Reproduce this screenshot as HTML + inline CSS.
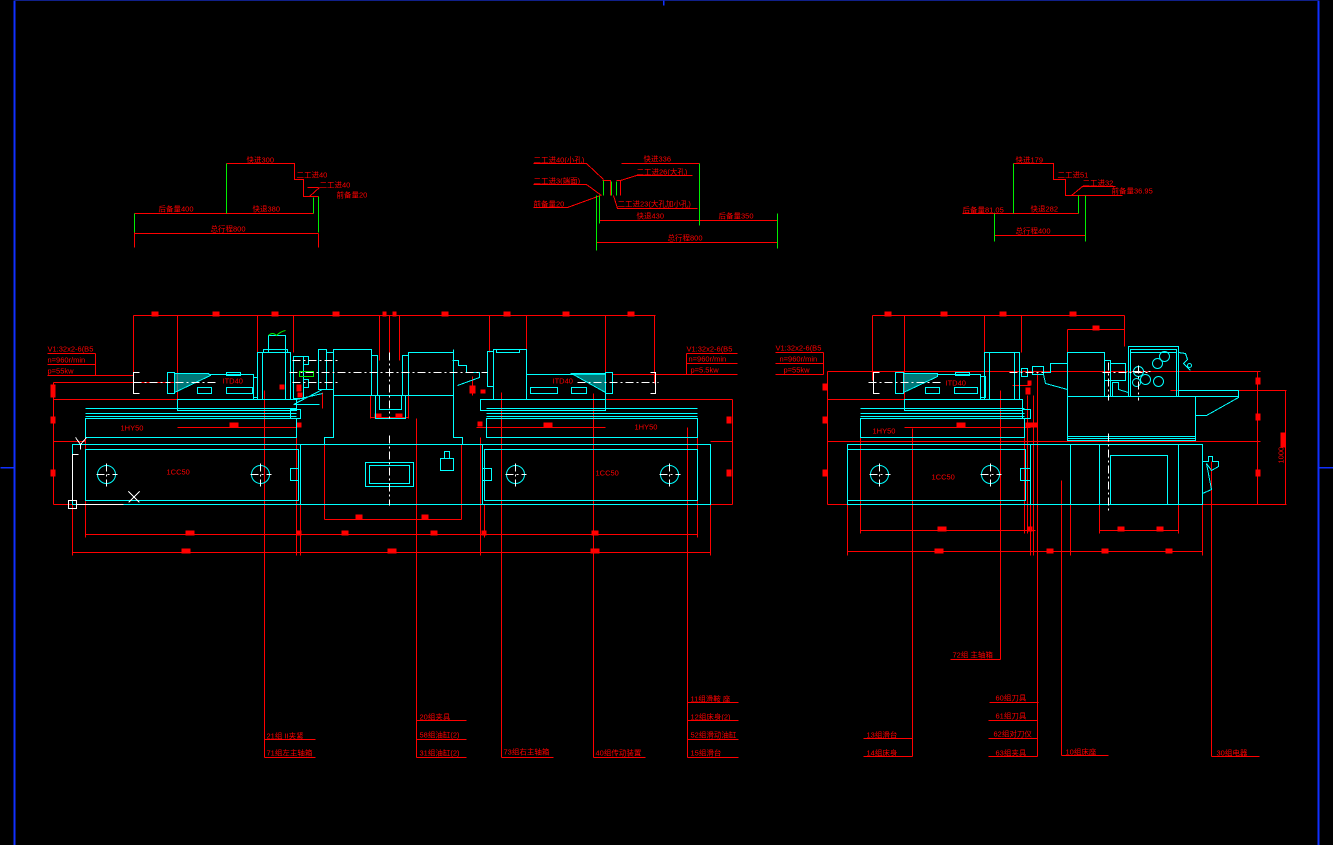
<!DOCTYPE html>
<html><head><meta charset="utf-8"><style>
html,body{margin:0;padding:0;background:#000;}
svg{display:block}
text{font-family:"Liberation Sans","Noto Sans CJK SC",sans-serif;fill:#ff0000;font-size:7.5px}
.c{stroke:#00ffff;fill:none;stroke-width:1}
.r{stroke:#ff0000;fill:none;stroke-width:1}
.g{stroke:#00ee00;fill:none;stroke-width:1}
.w{stroke:#fff;fill:none;stroke-width:1;stroke-dasharray:8 3 2 3}
.m{fill:#ff0000}
line,polyline,rect,polygon{shape-rendering:crispEdges}
</style></head><body>
<svg width="1333" height="845" viewBox="0 0 1333 845">
<rect width="1333" height="845" fill="#000"/>
<g transform="translate(0.5,0.5)">
<line x1="14" y1="0" x2="14" y2="845" stroke="#1030ff" stroke-width="2"/>
<line x1="1318" y1="0" x2="1318" y2="845" stroke="#1030ff" stroke-width="2"/>
<line x1="14" y1="0" x2="1318" y2="0" stroke="#10208a" stroke-width="1"/>
<line x1="663" y1="0" x2="663" y2="5" stroke="#1030ff" stroke-width="1.5"/>
<line x1="0" y1="467" x2="14" y2="467" stroke="#1030ff" stroke-width="1.5"/>
<line x1="1318" y1="467" x2="1333" y2="467" stroke="#1030ff" stroke-width="1.5"/>

<!-- ===== TOP DIAGRAM LEFT ===== -->
<g class="r">
<polyline points="226,163 294,163 294,179 303,179 303,196 318,196"/>
<line x1="307" y1="187" x2="318" y2="187"/><line x1="309" y1="196" x2="319" y2="187"/>
<line x1="134" y1="213" x2="313" y2="213"/>
<line x1="134" y1="233" x2="318" y2="233"/>
<line x1="134" y1="213" x2="134" y2="247"/><line x1="318" y1="233" x2="318" y2="247"/>
</g>
<g class="g"><line x1="226" y1="163" x2="226" y2="213"/><line x1="134" y1="213" x2="134" y2="232"/><line x1="318" y1="196" x2="318" y2="232"/><line x1="313" y1="197" x2="313" y2="213"/></g>
<text x="246" y="162">快进300</text><text x="296" y="177">二工进40</text><text x="319" y="187">二工进40</text>
<text x="336" y="197">前备量20</text><text x="158" y="211">后备量400</text><text x="252" y="211">快退380</text><text x="210" y="231">总行程800</text>

<!-- ===== TOP DIAGRAM MIDDLE ===== -->
<g class="r">
<line x1="621" y1="163" x2="699" y2="163"/>
<polyline points="533,163 586,163 603,179"/><polyline points="533,184 586,184 601,195"/><polyline points="533,207 567,207 600,195"/>
<polyline points="602,180 610,180 610,195"/><polyline points="616,180 620,180 620,195"/>
<polyline points="620,180 636,175 692,175"/>
<polyline points="613,195 617,208 697,208"/>
<line x1="599" y1="220" x2="777" y2="220"/>
<line x1="596" y1="242" x2="777" y2="242"/>
</g>
<g class="g"><line x1="699" y1="163" x2="699" y2="225"/><line x1="777" y1="213" x2="777" y2="248"/><line x1="596" y1="195" x2="596" y2="250"/><line x1="599" y1="195" x2="599" y2="223"/><line x1="611" y1="181" x2="611" y2="195"/><line x1="616" y1="181" x2="616" y2="195"/><line x1="603" y1="180" x2="603" y2="195"/></g>
<text x="533" y="162">二工进40(小孔)</text><text x="533" y="183">二工进3(端面)</text><text x="533" y="206">前备量20</text>
<text x="643" y="161">快进336</text><text x="636" y="174">二工进26(大孔)</text><text x="617" y="206">二工进23(大孔加小孔)</text>
<text x="636" y="218">快退430</text><text x="718" y="218">后备量350</text><text x="667" y="240">总行程800</text>

<!-- ===== TOP DIAGRAM RIGHT ===== -->
<g class="r">
<polyline points="1013,163 1053,163 1053,179 1065,179 1065,195 1122,195"/>
<line x1="1081" y1="186" x2="1115" y2="186"/><line x1="1071" y1="195" x2="1082" y2="186"/>
<line x1="962" y1="213" x2="1078" y2="213"/>
<line x1="994" y1="235" x2="1085" y2="235"/>
<line x1="994" y1="235" x2="994" y2="241"/>
</g>
<g class="g"><line x1="1013" y1="163" x2="1013" y2="213"/><line x1="994" y1="213" x2="994" y2="241"/><line x1="1085" y1="195" x2="1085" y2="241"/><line x1="1078" y1="195" x2="1078" y2="213"/></g>
<text x="1015" y="162">快进179</text><text x="1057" y="177">二工进51</text><text x="1082" y="185">二工进32</text><text x="1111" y="193">前备量36.95</text>
<text x="962" y="212">后备量81.05</text><text x="1030" y="211">快退282</text><text x="1015" y="233">总行程400</text>

<!-- ===== LEFT MACHINE: DIMENSIONS ===== -->
<g class="r">
<line x1="133" y1="315" x2="655" y2="315"/>
<line x1="133" y1="315" x2="133" y2="383"/><line x1="177" y1="315" x2="177" y2="400"/><line x1="257" y1="315" x2="257" y2="352"/>
<line x1="293" y1="315" x2="293" y2="352"/><line x1="379" y1="315" x2="379" y2="360"/><line x1="389" y1="315" x2="389" y2="360"/><line x1="399" y1="315" x2="399" y2="360"/>
<line x1="489" y1="315" x2="489" y2="352"/><line x1="526" y1="315" x2="526" y2="374"/><line x1="605" y1="315" x2="605" y2="400"/><line x1="654" y1="315" x2="654" y2="383"/>
<line x1="47" y1="353" x2="95" y2="353"/><line x1="47" y1="364" x2="95" y2="364"/><line x1="47" y1="375" x2="133" y2="375"/><line x1="95" y1="353" x2="95" y2="375"/>
<line x1="686" y1="353" x2="737" y2="353"/><line x1="686" y1="363" x2="737" y2="363"/><line x1="612" y1="374" x2="737" y2="374"/><line x1="686" y1="353" x2="686" y2="374"/>
<line x1="53" y1="382" x2="177" y2="382"/><line x1="53" y1="382" x2="53" y2="504"/>
<line x1="53" y1="399" x2="177" y2="399"/><line x1="53" y1="441" x2="85" y2="441"/><line x1="53" y1="504" x2="72" y2="504"/>
<line x1="177" y1="427" x2="296" y2="427"/><line x1="476" y1="427" x2="605" y2="427"/>
<line x1="480" y1="399" x2="732" y2="399"/><line x1="732" y1="399" x2="732" y2="504"/><line x1="710" y1="441" x2="732" y2="441"/><line x1="710" y1="504" x2="732" y2="504"/>
<line x1="85" y1="534" x2="697" y2="534"/><line x1="72" y1="552" x2="710" y2="552"/>
<line x1="72" y1="504" x2="72" y2="555"/><line x1="85" y1="437" x2="85" y2="537"/><line x1="296" y1="437" x2="296" y2="555"/><line x1="300" y1="504" x2="300" y2="555"/>
<line x1="480" y1="437" x2="480" y2="555"/><line x1="484" y1="504" x2="484" y2="537"/><line x1="697" y1="418" x2="697" y2="537"/><line x1="710" y1="504" x2="710" y2="555"/>
<line x1="324" y1="444" x2="324" y2="519"/><line x1="461" y1="444" x2="461" y2="519"/><line x1="324" y1="519" x2="461" y2="519"/>
<line x1="370" y1="395" x2="370" y2="418"/><line x1="408" y1="395" x2="408" y2="418"/><line x1="370" y1="417" x2="408" y2="417"/>
<line x1="264" y1="390" x2="264" y2="757"/><line x1="264" y1="739" x2="315" y2="739"/><line x1="264" y1="757" x2="315" y2="757"/>
<line x1="416" y1="418" x2="416" y2="757"/><line x1="416" y1="720" x2="466" y2="720"/><line x1="416" y1="739" x2="466" y2="739"/><line x1="416" y1="757" x2="466" y2="757"/>
<line x1="501" y1="392" x2="501" y2="757"/><line x1="501" y1="757" x2="553" y2="757"/>
<line x1="593" y1="393" x2="593" y2="757"/><line x1="593" y1="757" x2="645" y2="757"/>
<line x1="687" y1="427" x2="687" y2="757"/><line x1="687" y1="702" x2="738" y2="702"/><line x1="687" y1="720" x2="738" y2="720"/><line x1="687" y1="739" x2="738" y2="739"/><line x1="687" y1="757" x2="738" y2="757"/>
<line x1="472" y1="376" x2="472" y2="395"/><line x1="322" y1="392" x2="322" y2="408"/>
</g>
<g class="m">
<rect x="151" y="311" width="7" height="5"/><rect x="212" y="311" width="7" height="5"/><rect x="271" y="311" width="7" height="5"/><rect x="332" y="311" width="7" height="5"/>
<rect x="382" y="311" width="4" height="5"/><rect x="392" y="311" width="4" height="5"/><rect x="441" y="311" width="7" height="5"/><rect x="503" y="311" width="7" height="5"/><rect x="562" y="311" width="7" height="5"/><rect x="627" y="311" width="7" height="5"/>
<rect x="50" y="384" width="5" height="13"/><rect x="50" y="416" width="5" height="7"/><rect x="50" y="469" width="5" height="7"/>
<rect x="726" y="416" width="5" height="7"/><rect x="726" y="469" width="5" height="7"/>
<rect x="229" y="422" width="9" height="5"/><rect x="543" y="422" width="9" height="5"/><rect x="296" y="422" width="5" height="5"/>
<rect x="279" y="384" width="5" height="5"/><rect x="296" y="384" width="5" height="7"/><rect x="297" y="392" width="5" height="5"/>
<rect x="185" y="530" width="9" height="5"/><rect x="341" y="530" width="7" height="5"/><rect x="430" y="530" width="7" height="5"/><rect x="591" y="530" width="7" height="5"/><rect x="296" y="530" width="5" height="5"/><rect x="481" y="530" width="5" height="5"/>
<rect x="181" y="548" width="9" height="5"/><rect x="387" y="548" width="9" height="5"/><rect x="590" y="548" width="9" height="5"/>
<rect x="355" y="514" width="7" height="5"/><rect x="421" y="514" width="7" height="5"/>
<rect x="374" y="413" width="7" height="5"/><rect x="395" y="413" width="7" height="5"/>
<rect x="469" y="385" width="6" height="8"/><rect x="480" y="389" width="5" height="4"/><rect x="477" y="421" width="5" height="5"/>
</g>
<text x="47" y="351" font-size="6.5">V1:32x2-6(B5</text><text x="47" y="362" font-size="6.5">n=960r/min</text><text x="47" y="373" font-size="6.5">p=55kw</text>
<text x="686" y="351" font-size="6.5">V1:32x2-6(B5</text><text x="688" y="361" font-size="6.5">n=960r/min</text><text x="690" y="372" font-size="6.5">p=5.5kw</text>
<text x="222" y="383" font-size="7">ITD40</text><text x="552" y="383" font-size="7">ITD40</text>
<text x="120" y="430" font-size="8">1HY50</text><text x="634" y="429" font-size="8">1HY50</text>
<text x="166" y="474" font-size="8">1CC50</text><text x="595" y="475" font-size="8">1CC50</text>

<!-- ===== LEFT MACHINE: CYAN ===== -->
<g class="c">
<rect x="167" y="372" width="7" height="21"/>
<polygon points="174,373 208,373 210,375 174,392" fill="#00c8c8" fill-opacity="0.6"/>
<polyline points="208,374 253,374 253,399 177,399"/>
<rect x="226" y="372" width="14" height="3"/>
<rect x="197" y="387" width="14" height="6"/><rect x="226" y="387" width="26" height="6"/>
<rect x="253" y="377" width="4" height="20"/>
<rect x="257" y="352" width="33" height="47"/><rect x="262" y="352" width="23" height="47"/>
<rect x="268" y="335" width="17" height="17"/><rect x="263" y="349" width="24" height="3"/>
<rect x="177" y="399" width="119" height="11"/>
<line x1="85" y1="408" x2="296" y2="408"/><line x1="85" y1="413" x2="296" y2="413"/><line x1="85" y1="416" x2="296" y2="416"/>
<rect x="85" y="418" width="211" height="19"/>
<line x1="85" y1="437" x2="296" y2="437"/>
<rect x="290" y="409" width="10" height="9"/>
<rect x="72" y="444" width="228" height="60"/><rect x="85" y="449" width="213" height="51"/>
<rect x="290" y="468" width="8" height="12"/>
<circle cx="106" cy="474" r="9"/><circle cx="260" cy="474" r="9"/>
<rect x="293" y="356" width="10" height="42"/><rect x="303" y="356" width="5" height="8"/><rect x="303" y="379" width="5" height="8"/>
<rect x="318" y="349" width="8" height="40"/><rect x="326" y="352" width="7" height="37"/>
<polyline points="322,389 293,404 319,404"/><line x1="296" y1="399" x2="322" y2="393"/>
<rect x="299" y="371" width="14" height="5" stroke="#00ee00"/>
<polyline points="333,349 333,437 324,437 324,444 462,444 462,437 453,437 453,349"/>
<rect x="333" y="349" width="38" height="46"/>
<line x1="333" y1="395" x2="453" y2="395"/>
<rect x="408" y="352" width="45" height="43"/>
<rect x="371" y="355" width="6" height="40"/><rect x="402" y="355" width="6" height="40"/>
<rect x="375" y="395" width="30" height="23"/><rect x="379" y="395" width="22" height="14"/>
<rect x="365" y="462" width="48" height="24"/><rect x="369" y="465" width="40" height="18"/>
<polyline points="452,360 458,360 458,365 466,365 466,372 479,372 479,377 457,385"/>
<rect x="300" y="444" width="182" height="60"/>
<rect x="440" y="458" width="13" height="12"/><rect x="444" y="451" width="5" height="7"/>
<rect x="487" y="351" width="6" height="35"/><rect x="493" y="349" width="33" height="50"/><rect x="496" y="349" width="23" height="3"/>
<rect x="526" y="374" width="79" height="25"/>
<polygon points="571,373 605,373 605,392" fill="#00c8c8" fill-opacity="0.6"/>
<rect x="605" y="372" width="7" height="21"/>
<rect x="530" y="387" width="27" height="6"/><rect x="571" y="387" width="15" height="6"/>
<rect x="480" y="399" width="125" height="11"/>
<line x1="486" y1="408" x2="697" y2="408"/><line x1="486" y1="413" x2="697" y2="413"/><line x1="486" y1="416" x2="697" y2="416"/>
<rect x="486" y="418" width="211" height="19"/><line x1="486" y1="437" x2="697" y2="437"/>
<rect x="482" y="444" width="228" height="60"/><rect x="484" y="449" width="213" height="51"/>
<rect x="482" y="468" width="9" height="12"/>
<circle cx="515" cy="474" r="9"/><circle cx="669" cy="474" r="9"/>
</g>
<g class="w">
<line x1="133" y1="382" x2="170" y2="382"/><line x1="175" y1="382" x2="215" y2="382"/>
<line x1="289" y1="372" x2="487" y2="372"/><line x1="292" y1="360" x2="337" y2="360"/><line x1="292" y1="382" x2="338" y2="382"/>
<line x1="577" y1="382" x2="658" y2="382"/>
<line x1="389" y1="352" x2="389" y2="418"/><line x1="389" y1="435" x2="389" y2="505"/>
<line x1="96" y1="474" x2="117" y2="474"/><line x1="106" y1="463" x2="106" y2="486"/>
<line x1="250" y1="474" x2="271" y2="474"/><line x1="260" y1="463" x2="260" y2="486"/>
<line x1="505" y1="474" x2="526" y2="474"/><line x1="515" y1="463" x2="515" y2="486"/>
<line x1="659" y1="474" x2="680" y2="474"/><line x1="669" y1="463" x2="669" y2="486"/>
</g>
<g stroke="#fff" fill="none" stroke-width="1">
<polyline points="139,372 133,372 133,393 139,393"/><polyline points="650,372 655,372 655,393 650,393"/>
<rect x="68" y="500" width="8" height="8"/><polyline points="72,500 72,454 78,454"/><line x1="76" y1="504" x2="123" y2="504"/>
<line x1="128" y1="491" x2="139" y2="502"/><line x1="139" y1="491" x2="128" y2="502"/>
<polyline points="75,437 80,444 86,437"/><line x1="80" y1="444" x2="80" y2="449"/>
</g>
<path d="M268,335 Q272,331 276,335 Q280,331 285,330" class="g"/>

<text x="266" y="738">21组 II夹紧</text><text x="266" y="755">71组左主轴箱</text>
<text x="419" y="719">20组夹具</text><text x="419" y="737">58组油缸(2)</text><text x="419" y="755">31组油缸(2)</text>
<text x="503" y="754">73组右主轴箱</text><text x="595" y="755">40组传动装置</text>
<text x="690" y="701">11组滑鞍 座</text><text x="690" y="719">12组床身(2)</text><text x="690" y="737">52组滑动油缸</text><text x="690" y="755">15组滑台</text>

<!-- ===== RIGHT MACHINE ===== -->
<g class="r">
<line x1="872" y1="315" x2="1124" y2="315"/>
<line x1="872" y1="315" x2="872" y2="380"/><line x1="904" y1="315" x2="904" y2="400"/><line x1="984" y1="315" x2="984" y2="352"/><line x1="1021" y1="315" x2="1021" y2="352"/><line x1="1124" y1="315" x2="1124" y2="340"/>
<line x1="1067" y1="329" x2="1124" y2="329"/><line x1="1067" y1="329" x2="1067" y2="352"/><line x1="1124" y1="329" x2="1124" y2="346"/>
<line x1="775" y1="352" x2="823" y2="352"/><line x1="775" y1="363" x2="823" y2="363"/><line x1="775" y1="374" x2="823" y2="374"/><line x1="823" y1="352" x2="823" y2="374"/>
<line x1="827" y1="371" x2="1260" y2="371"/><line x1="827" y1="371" x2="827" y2="504"/><line x1="827" y1="399" x2="904" y2="399"/><line x1="827" y1="441" x2="1260" y2="441"/>
<line x1="827" y1="504" x2="848" y2="504"/><line x1="1200" y1="504" x2="1286" y2="504"/>
<line x1="1257" y1="371" x2="1257" y2="504"/><line x1="1170" y1="390" x2="1286" y2="390"/><line x1="1285" y1="390" x2="1285" y2="504"/>
<line x1="904" y1="427" x2="1030" y2="427"/>
<line x1="860" y1="530" x2="1035" y2="530"/><line x1="1099" y1="530" x2="1178" y2="530"/>
<line x1="847" y1="551" x2="1202" y2="551"/>
<line x1="847" y1="504" x2="847" y2="555"/><line x1="860" y1="437" x2="860" y2="533"/><line x1="1024" y1="437" x2="1024" y2="533"/><line x1="1030" y1="504" x2="1030" y2="555"/><line x1="1070" y1="504" x2="1070" y2="555"/><line x1="1099" y1="504" x2="1099" y2="533"/><line x1="1178" y1="504" x2="1178" y2="533"/><line x1="1202" y1="504" x2="1202" y2="555"/>
<line x1="1027" y1="395" x2="1027" y2="533"/><line x1="1033" y1="395" x2="1033" y2="555"/>
<line x1="912" y1="428" x2="912" y2="756"/><line x1="863" y1="738" x2="912" y2="738"/><line x1="863" y1="756" x2="912" y2="756"/>
<line x1="1000" y1="390" x2="1000" y2="659"/><line x1="950" y1="659" x2="1000" y2="659"/>
<line x1="1037" y1="372" x2="1037" y2="756"/><line x1="989" y1="702" x2="1038" y2="702"/><line x1="988" y1="720" x2="1037" y2="720"/><line x1="988" y1="738" x2="1037" y2="738"/><line x1="988" y1="756" x2="1037" y2="756"/>
<line x1="1061" y1="480" x2="1061" y2="755"/><line x1="1061" y1="755" x2="1108" y2="755"/>
<line x1="1211" y1="461" x2="1211" y2="756"/><line x1="1211" y1="756" x2="1259" y2="756"/>
<line x1="1012" y1="385" x2="1030" y2="385"/>
</g>
<g class="m">
<rect x="884" y="311" width="7" height="5"/><rect x="940" y="311" width="7" height="5"/><rect x="999" y="311" width="7" height="5"/><rect x="1069" y="311" width="7" height="5"/>
<rect x="1092" y="325" width="7" height="5"/>
<rect x="822" y="383" width="5" height="7"/><rect x="822" y="416" width="5" height="7"/><rect x="822" y="469" width="5" height="7"/>
<rect x="1255" y="377" width="5" height="7"/><rect x="1255" y="413" width="5" height="7"/><rect x="1255" y="469" width="5" height="7"/>
<rect x="1280" y="432" width="5" height="15"/>
<rect x="956" y="422" width="9" height="5"/><rect x="1025" y="422" width="12" height="5"/><rect x="1027" y="380" width="4" height="5"/><rect x="1025" y="387" width="5" height="7"/>
<rect x="937" y="526" width="9" height="5"/><rect x="1027" y="526" width="5" height="5"/><rect x="1117" y="526" width="7" height="5"/><rect x="1156" y="526" width="7" height="5"/>
<rect x="934" y="548" width="9" height="5"/><rect x="1046" y="548" width="7" height="5"/><rect x="1101" y="548" width="7" height="5"/><rect x="1165" y="548" width="7" height="5"/>
</g>
<text x="775" y="350" font-size="6.5">V1:32x2-6(B5</text><text x="779" y="361" font-size="6.5">n=960r/min</text><text x="783" y="372" font-size="6.5">p=55kw</text>
<text x="945" y="385" font-size="8">ITD40</text><text x="872" y="433" font-size="8">1HY50</text><text x="931" y="479" font-size="8">1CC50</text>
<text x="1283" y="463" font-size="6" transform="rotate(-90 1283 463)">1000</text>
<g class="c">
<rect x="895" y="372" width="8" height="21"/>
<polygon points="903,373 937,373 937,376 903,392" fill="#00c8c8" fill-opacity="0.6"/>
<polyline points="937,374 980,374 980,399 904,399"/>
<rect x="955" y="372" width="14" height="3"/>
<rect x="925" y="387" width="14" height="6"/><rect x="954" y="387" width="23" height="6"/>
<rect x="980" y="376" width="5" height="21"/>
<rect x="984" y="352" width="35" height="47"/><rect x="989" y="352" width="25" height="47"/>
<rect x="904" y="399" width="118" height="11"/>
<line x1="860" y1="408" x2="1024" y2="408"/><line x1="860" y1="413" x2="1024" y2="413"/><line x1="860" y1="416" x2="1024" y2="416"/>
<rect x="860" y="418" width="164" height="19"/><line x1="860" y1="437" x2="1024" y2="437"/>
<rect x="1022" y="409" width="8" height="9"/>
<rect x="847" y="444" width="183" height="60"/><rect x="847" y="449" width="178" height="51"/>
<rect x="1020" y="468" width="10" height="12"/>
<circle cx="879" cy="474" r="9"/><circle cx="990" cy="474" r="9"/>
<rect x="1021" y="368" width="6" height="8"/><rect x="1032" y="366" width="11" height="8"/>
<polyline points="1043,366 1043,372 1050,372 1050,363 1067,363"/>
<polyline points="1043,374 1045,383 1067,389"/>
<rect x="1067" y="352" width="37" height="44"/>
<rect x="1104" y="360" width="6" height="20"/><rect x="1110" y="363" width="15" height="17"/>
<polyline points="1110,380 1110,396 1112,396 1112,382 1118,382 1118,389 1128,392"/>
<rect x="1067" y="396" width="128" height="44"/>
<line x1="1067" y1="436" x2="1195" y2="436"/><line x1="1067" y1="438" x2="1195" y2="438"/>
<rect x="1128" y="346" width="50" height="50"/><rect x="1130" y="349" width="46" height="47"/><line x1="1130" y1="352" x2="1176" y2="352"/>
<circle cx="1138" cy="371" r="5"/><circle cx="1145" cy="379" r="5"/><circle cx="1136" cy="382" r="4"/><circle cx="1158" cy="381" r="5"/><circle cx="1157" cy="363" r="5"/><circle cx="1164" cy="356" r="5"/>
<polyline points="1178,352 1185,353 1187,359 1183,363 1190,370"/><circle cx="1189" cy="365" r="2"/>
<polyline points="1178,390 1238,390 1238,397 1206,415 1195,415"/>
<line x1="1178" y1="396" x2="1238" y2="396"/>
<rect x="1030" y="444" width="172" height="60"/>
<line x1="1070" y1="444" x2="1070" y2="504"/><line x1="1099" y1="444" x2="1099" y2="504"/><line x1="1178" y1="444" x2="1178" y2="504"/>
<rect x="1110" y="455" width="57" height="49"/>
<polyline points="1202,461 1208,461 1208,456 1212,456 1212,461 1218,461 1218,466 1211,470 1206,463 1211,489 1202,493"/>
</g>
<g class="w">
<line x1="868" y1="382" x2="940" y2="382"/><line x1="1009" y1="372" x2="1043" y2="372"/><line x1="1102" y1="372" x2="1150" y2="372"/>
<line x1="1108" y1="362" x2="1108" y2="400"/><line x1="1108" y1="433" x2="1108" y2="510"/>
<line x1="869" y1="474" x2="890" y2="474"/><line x1="879" y1="463" x2="879" y2="486"/>
<line x1="980" y1="474" x2="1001" y2="474"/><line x1="990" y1="463" x2="990" y2="486"/>
<line x1="1132" y1="371" x2="1150" y2="371"/><line x1="1138" y1="365" x2="1138" y2="400"/>
</g>
<g stroke="#fff" fill="none" stroke-width="1"><polyline points="879,372 873,372 873,393 879,393"/></g>
<text x="952" y="657">72组 主轴箱</text>
<text x="866" y="737">13组滑台</text><text x="866" y="755">14组床身</text>
<text x="995" y="700">60组刀具</text><text x="995" y="718">61组刀具</text><text x="993" y="736">62组对刀仪</text><text x="995" y="755">63组夹具</text>
<text x="1065" y="754">10组床座</text><text x="1216" y="755">30组电器</text>
</g>
</svg>
</body></html>
